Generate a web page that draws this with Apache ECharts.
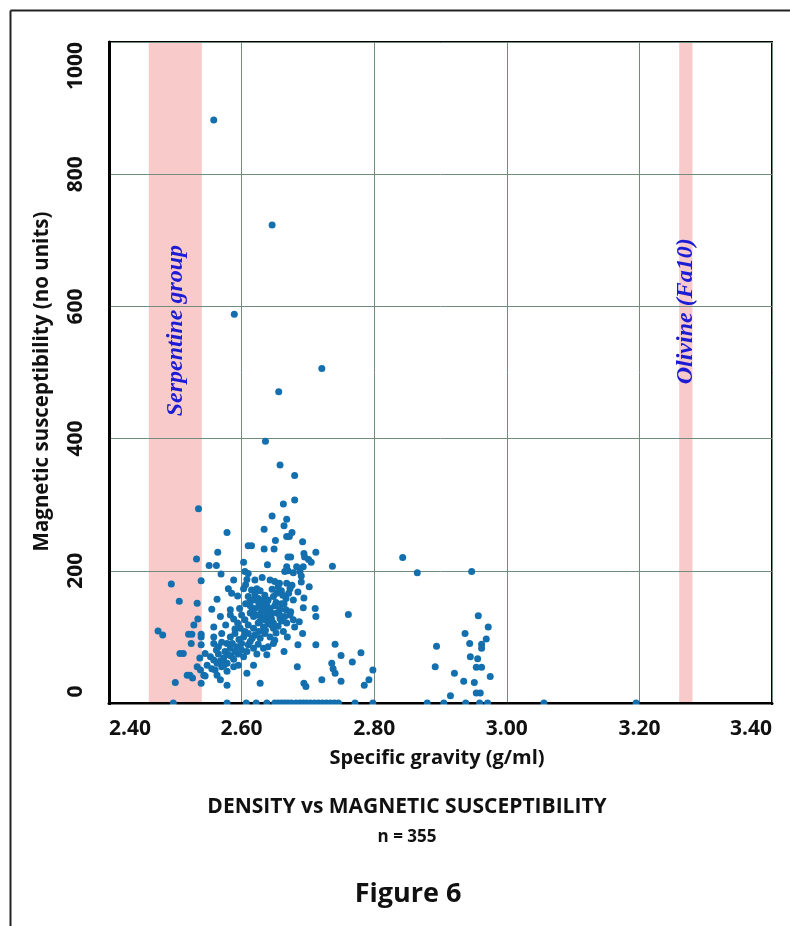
<!DOCTYPE html>
<html>
<head>
<meta charset="utf-8">
<script src="https://cdn.jsdelivr.net/npm/echarts@6/dist/echarts.min.js"></script>
<style>
  html, body { margin: 0; padding: 0; background: #ffffff; }
  #chart { width: 790px; height: 926px; }
</style>
</head>
<body>
<div id="chart"></div>
<script>
// Specific gravity (g/ml) vs magnetic susceptibility, one [gravity, susceptibility] pair per specimen.

// Axis ranges and ticks
const gravityRange = [2.4, 3.4];
const gravityStep = 0.2;
const suscRange = [0, 1000];
const suscStep = 200;

// Reference mineral density bands (g/ml)
const serpentineBand = [2.46, 2.54];
const olivineBand = [3.26, 3.28];
const bandNames = ['Serpentine group', 'Olivine (Fa10)'];

// Specimens with high susceptibility
const highReadings = [
  [2.558, 882], [2.646, 723], [2.589, 588], [2.721, 506], [2.656, 471],
  [2.636, 396], [2.658, 360], [2.680, 344], [2.680, 307], [2.663, 301],
  [2.535, 294], [2.646, 283], [2.668, 278], [2.664, 268], [2.634, 263],
  [2.676, 258], [2.578, 258], [2.668, 252], [2.672, 252]
];

// Specimens between 200 and 250
const upperReadings = [
  [2.651, 246], [2.692, 244], [2.610, 238], [2.615, 238], [2.634, 233],
  [2.649, 233], [2.564, 228], [2.694, 226], [2.712, 228], [2.670, 221],
  [2.674, 221], [2.695, 221], [2.701, 217], [2.843, 220], [2.532, 218],
  [2.705, 213], [2.603, 213], [2.639, 209], [2.737, 207], [2.551, 208],
  [2.562, 208], [2.668, 206], [2.683, 206], [2.693, 206]
];

// Light specimens falling in the serpentine range
const serpentineReadings = [
  [2.494, 180], [2.539, 185], [2.506, 154], [2.533, 151], [2.474, 109],
  [2.481, 103], [2.534, 127], [2.528, 118], [2.520, 104], [2.525, 104],
  [2.539, 104], [2.539, 100], [2.524, 90], [2.539, 88], [2.507, 75],
  [2.512, 75], [2.522, 42], [2.526, 38], [2.539, 30], [2.500, 31],
  [2.543, 42], [2.518, 42], [2.537, 68], [2.533, 55], [2.538, 50],
  [2.545, 41], [2.545, 75]
];

// Main body of specimens, 2.55 - 2.72
const mainReadings = [
  [2.569, 195], [2.588, 186], [2.605, 199], [2.610, 196], [2.608, 187],
  [2.620, 186], [2.631, 190], [2.643, 186], [2.650, 184], [2.657, 181],
  [2.665, 199], [2.670, 200], [2.678, 197], [2.688, 199], [2.690, 192],
  [2.668, 181], [2.673, 173], [2.690, 183], [2.702, 176],
  [2.580, 173], [2.585, 166], [2.594, 162], [2.563, 157], [2.603, 173],
  [2.606, 179], [2.615, 171], [2.623, 173], [2.628, 170], [2.610, 161],
  [2.618, 156], [2.625, 158], [2.635, 163], [2.640, 156], [2.648, 161],
  [2.653, 166], [2.660, 170], [2.667, 158], [2.678, 156], [2.694, 159],
  [2.555, 142], [2.583, 141], [2.597, 143], [2.613, 147], [2.620, 143],
  [2.628, 146], [2.635, 148], [2.643, 143], [2.650, 147], [2.658, 142],
  [2.667, 141], [2.674, 138], [2.711, 143], [2.712, 131], [2.693, 144],
  [2.568, 131], [2.583, 133], [2.588, 127], [2.600, 133], [2.605, 126],
  [2.613, 136], [2.618, 131], [2.623, 133], [2.630, 130], [2.638, 133],
  [2.645, 128], [2.653, 136], [2.658, 128], [2.665, 131], [2.673, 133],
  [2.678, 126],
  [2.558, 115], [2.576, 118], [2.594, 121], [2.598, 113], [2.610, 118],
  [2.618, 113], [2.625, 121], [2.633, 115], [2.640, 120], [2.648, 113],
  [2.655, 116], [2.668, 121], [2.680, 115], [2.687, 123],
  [2.558, 100], [2.570, 105], [2.583, 100], [2.590, 105], [2.603, 100],
  [2.610, 105], [2.620, 103], [2.628, 98], [2.635, 105], [2.643, 100],
  [2.650, 95], [2.663, 108], [2.669, 100], [2.692, 105],
  [2.558, 90], [2.565, 85], [2.578, 90], [2.583, 83], [2.593, 85],
  [2.600, 90], [2.610, 88], [2.618, 83], [2.625, 89], [2.633, 83],
  [2.640, 85], [2.648, 90], [2.664, 78], [2.685, 88], [2.712, 88],
  [2.553, 70], [2.558, 65], [2.565, 74], [2.573, 68], [2.580, 73],
  [2.588, 66], [2.595, 74], [2.603, 70], [2.623, 74], [2.638, 73],
  [2.548, 57], [2.555, 52], [2.563, 60], [2.570, 55], [2.578, 60],
  [2.588, 55], [2.595, 57], [2.608, 45], [2.618, 57], [2.684, 55],
  [2.563, 42], [2.568, 35], [2.578, 27], [2.628, 30], [2.694, 30],
  [2.697, 25], [2.721, 35]
];

// Tightly packed core of the main body
const coreReadings = [
  [2.612, 152], [2.620, 164], [2.626, 151], [2.632, 156], [2.616, 140],
  [2.630, 139], [2.606, 150], [2.636, 142],
  [2.638, 151], [2.645, 136], [2.652, 152], [2.642, 124], [2.657, 134],
  [2.648, 121], [2.660, 150], [2.636, 126],
  [2.562, 80], [2.570, 92], [2.575, 78], [2.568, 64], [2.584, 71],
  [2.578, 48], [2.586, 90], [2.560, 50], [2.574, 58], [2.590, 77],
  [2.596, 96], [2.605, 108], [2.613, 93], [2.600, 80], [2.616, 98],
  [2.590, 112], [2.608, 78],
  [2.628, 124], [2.636, 110], [2.645, 118], [2.652, 106], [2.660, 124],
  [2.626, 108], [2.642, 134],
  [2.646, 172], [2.655, 176], [2.662, 163], [2.671, 166], [2.676, 178],
  [2.664, 150], [2.685, 168]
];

// Denser specimens, 2.73 and above
const heavyReadings = [
  [2.865, 197], [2.947, 199], [2.761, 134], [2.957, 132], [2.972, 115],
  [2.937, 105], [2.969, 97], [2.944, 90], [2.962, 89], [2.962, 83],
  [2.894, 86], [2.945, 70], [2.956, 67], [2.954, 54], [2.962, 54],
  [2.892, 55], [2.921, 45], [2.975, 40], [2.935, 33], [2.951, 31],
  [2.954, 15], [2.960, 15], [2.915, 11], [2.798, 50], [2.792, 35],
  [2.780, 76], [2.767, 62], [2.750, 72], [2.741, 89], [2.736, 60],
  [2.738, 52], [2.741, 45], [2.750, 33], [2.785, 27]
];

// Specimens with no measurable susceptibility
const zeroGravities = [
  2.497, 2.578, 2.607, 2.622, 2.638, 2.650, 2.655, 2.660, 2.665, 2.670,
  2.675, 2.682, 2.688, 2.693, 2.698, 2.704, 2.710, 2.716, 2.722, 2.728,
  2.734, 2.740, 2.746, 2.771, 2.798, 2.880, 2.905, 2.938, 2.959, 2.971,
  3.056, 3.195
];

const specimens = [].concat(
  highReadings, upperReadings, serpentineReadings, mainReadings, coreReadings,
  heavyReadings, zeroGravities.map(function (g) { return [g, 0]; })
);

const FONT = '"Open Sans", "Liberation Sans", sans-serif';
const SERIF = '"Liberation Serif", "DejaVu Serif", serif';
const GRID_LINE = '#6f8c7c';

const chart = echarts.init(document.getElementById('chart'), null, { renderer: 'canvas' });

const option = {
  backgroundColor: '#ffffff',
  animation: false,
  title: [
    {
      text: 'DENSITY vs MAGNETIC SUSCEPTIBILITY',
      left: 407, top: 797, textAlign: 'center', padding: 0,
      textStyle: { fontFamily: FONT, fontSize: 21, fontWeight: 'bold', color: '#111' }
    },
    {
      text: 'n = 355',
      left: 407, top: 829, textAlign: 'center', padding: 0,
      textStyle: { fontFamily: FONT, fontSize: 17, fontWeight: 'bold', color: '#111' }
    },
    {
      text: 'Figure 6',
      left: 408, top: 881, textAlign: 'center', padding: 0,
      textStyle: { fontFamily: FONT, fontSize: 27, fontWeight: 'bold', color: '#111' }
    }
  ],
  grid: {
    left: 109, right: 18, top: 42, bottom: 223,
    show: true, borderColor: '#000', borderWidth: 2, backgroundColor: 'transparent'
  },
  xAxis: {
    type: 'value',
    min: gravityRange[0], max: gravityRange[1], interval: gravityStep,
    name: 'Specific gravity (g/ml)',
    nameLocation: 'middle', nameGap: 45,
    nameTextStyle: { fontFamily: FONT, fontSize: 20, fontWeight: 'bold', color: '#111', padding: [0, 7, 0, 0] },
    axisLine: { show: true, lineStyle: { color: '#000', width: 3 } },
    axisTick: { show: false },
    axisLabel: {
      fontFamily: FONT, fontSize: 21, fontWeight: 'bold', color: '#111', margin: 16,
      alignMinLabel: 'left', alignMaxLabel: 'right',
      formatter: function (v) { return v.toFixed(2); }
    },
    splitLine: { show: true, lineStyle: { color: GRID_LINE, width: 1 } },
    z: 2
  },
  yAxis: {
    type: 'value',
    min: suscRange[0], max: suscRange[1], interval: suscStep,
    name: 'Magnetic susceptibility (no units)',
    nameLocation: 'middle', nameGap: 56,
    nameTextStyle: { fontFamily: FONT, fontSize: 20.5, fontWeight: 'bold', color: '#111', padding: [0, 18, 0, 0] },
    axisLine: { show: true, lineStyle: { color: '#000', width: 3 } },
    axisTick: { show: false },
    axisLabel: {
      fontFamily: FONT, fontSize: 21, fontWeight: 'bold', color: '#111', margin: 22,
      rotate: 90, alignMinLabel: 'left', alignMaxLabel: 'right',
      // plain integers; the zero label sits a little clear of the corner
      formatter: function (v) { return v === 0 ? ' 0' : String(v); }
    },
    splitLine: { show: true, lineStyle: { color: GRID_LINE, width: 1 } },
    z: 2
  },
  series: [
    {
      // density bands for reference minerals
      type: 'scatter',
      data: [],
      z: 1,
      silent: true,
      markArea: {
        silent: true,
        itemStyle: { color: 'rgba(240,128,128,0.42)', borderWidth: 0 },
        data: [
          [{ xAxis: serpentineBand[0], yAxis: suscRange[0] }, { xAxis: serpentineBand[1], yAxis: suscRange[1] }],
          [{ xAxis: olivineBand[0], yAxis: suscRange[0] }, { xAxis: olivineBand[1], yAxis: suscRange[1] }]
        ]
      }
    },
    {
      name: 'Specimens',
      type: 'scatter',
      data: specimens,
      symbol: 'circle',
      symbolSize: 7,
      itemStyle: { color: '#136fae', opacity: 1 },
      z: 3
    }
  ]
};

chart.setOption(option);

// Band captions, placed on each band's centre line and ending near the top of the plot
function bandCaption(band, name, topValue) {
  const mid = (band[0] + band[1]) / 2;
  const p = chart.convertToPixel({ xAxisIndex: 0, yAxisIndex: 0 }, [mid, topValue]);
  return {
    type: 'text',
    x: p[0], y: p[1],
    rotation: Math.PI / 2,
    silent: true,
    z: 10,
    style: {
      text: name,
      fill: '#1c1cd4',
      font: 'italic bold 24px ' + SERIF,
      align: 'right',
      verticalAlign: 'middle'
    }
  };
}

// Plot floor: markers resting on zero show only above the axis line
const floorTop = chart.convertToPixel({ yAxisIndex: 0 }, suscRange[0]);
const plotLeft = chart.convertToPixel({ xAxisIndex: 0 }, gravityRange[0]);
const plotRight = chart.convertToPixel({ xAxisIndex: 0 }, gravityRange[1]);

chart.setOption({
  graphic: [
    // page frame
    { type: 'line', silent: true, shape: { x1: 10.5, y1: 10.5, x2: 790, y2: 10.5 }, style: { stroke: '#222', lineWidth: 2 } },
    { type: 'line', silent: true, shape: { x1: 10.5, y1: 10.5, x2: 10.5, y2: 926 }, style: { stroke: '#222', lineWidth: 2 } },
    { type: 'rect', silent: true, z: 5,
      shape: { x: plotLeft + 2, y: floorTop + 1.5, width: plotRight - plotLeft - 3, height: 8 },
      style: { fill: '#ffffff' } },
    bandCaption(serpentineBand, bandNames[0], 693),
    bandCaption(olivineBand, bandNames[1], 703)
  ]
});
</script>
</body>
</html>
